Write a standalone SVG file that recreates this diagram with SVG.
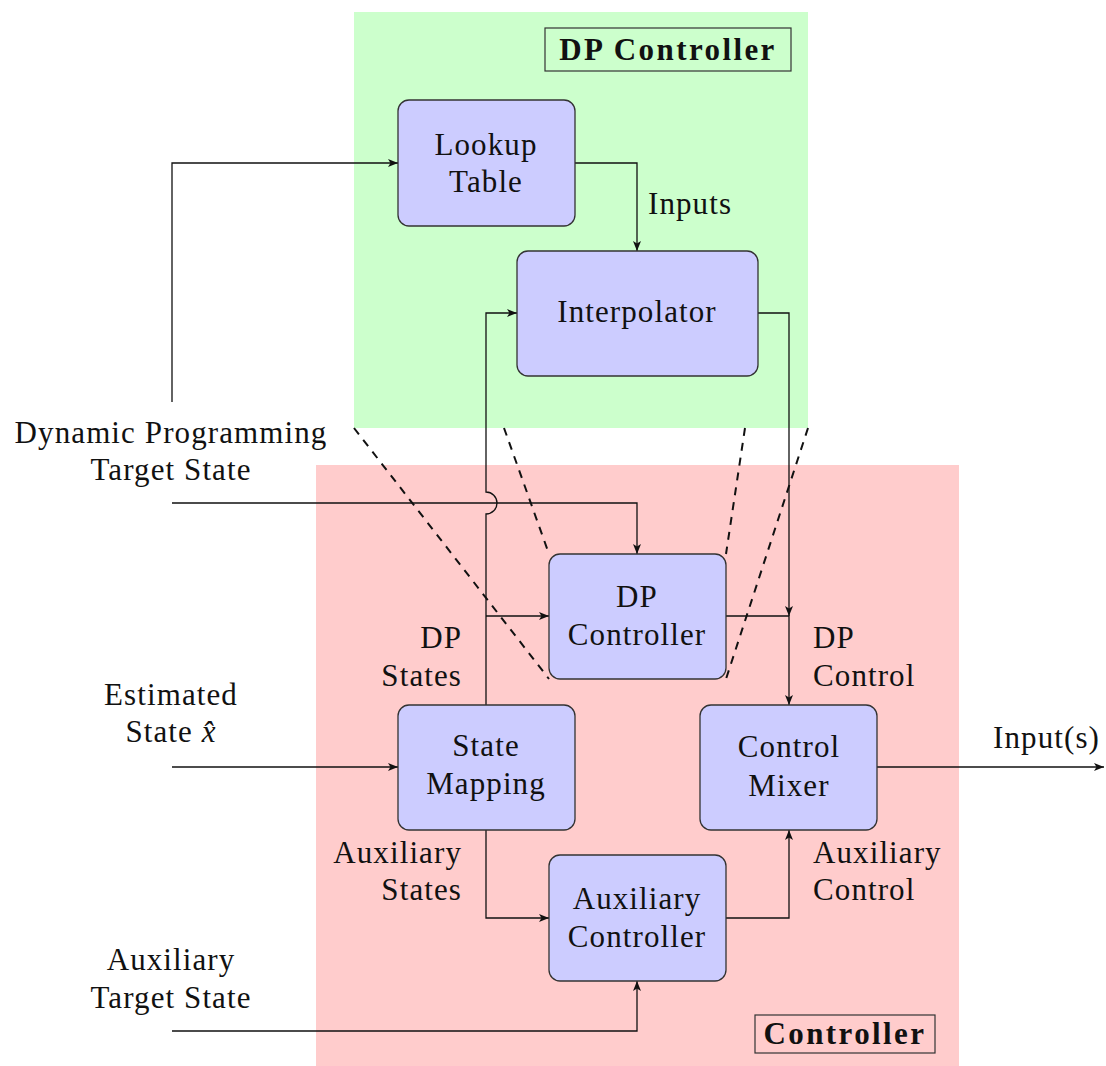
<svg xmlns="http://www.w3.org/2000/svg" width="1106" height="1066" viewBox="0 0 1106 1066">
  <style>
    text { font-family: "Liberation Serif", "DejaVu Serif", serif; font-size: 31px; letter-spacing: 1.1px; fill: #111; }
    .title { font-weight: bold; letter-spacing: 2.4px; }
    .box { fill: #ccccff; stroke: #333; stroke-width: 1.3; }
    .frame { fill: none; stroke: #333; stroke-width: 1.2; }
    .wire { fill: none; stroke: #111; stroke-width: 1.3; }
    .zoom { fill: none; stroke: #111; stroke-width: 2; stroke-dasharray: 8 7; }
    .c { text-anchor: middle; }
    .r { text-anchor: end; }
  </style>
  <defs>
    <marker id="arrow" viewBox="0 0 10 10" refX="10" refY="5" markerWidth="10" markerHeight="10" markerUnits="userSpaceOnUse" orient="auto">
      <path d="M0,1 L10,5 L0,9 L2.5,5 Z" fill="#111"/>
    </marker>
  </defs>

  <!-- regions -->
  <g id="dp-region">
    <rect x="354" y="12" width="454" height="416" fill="#ccffcc"/>
    <rect class="frame" x="545" y="28" width="246" height="43"/>
    <text class="c title" x="668" y="60">DP Controller</text>
  </g>
  <g id="controller-region">
    <rect x="316" y="465" width="643" height="601" fill="#ffcccc"/>
    <rect class="frame" x="755" y="1015" width="180" height="38"/>
    <text class="c title" x="845" y="1044">Controller</text>
  </g>

  <!-- magnification lines from the DP region down to the DP Controller block -->
  <g id="zoom-lines">
    <line class="zoom" x1="354" y1="428" x2="549" y2="679"/>
    <line class="zoom" x1="504" y1="428" x2="549" y2="554"/>
    <line class="zoom" x1="745" y1="428" x2="726" y2="554"/>
    <line class="zoom" x1="808" y1="428" x2="726" y2="679"/>
  </g>

  <!-- connectors -->
  <g id="connectors">
    <path class="wire" d="M172,402 V163 H398" marker-end="url(#arrow)"/>
    <path class="wire" d="M575,163 H637 V251" marker-end="url(#arrow)"/>
    <path class="wire" d="M486,705 V514 A11,11 0 0 0 486,492 V313 H517" marker-end="url(#arrow)"/>
    <path class="wire" d="M486,616 H549" marker-end="url(#arrow)"/>
    <path class="wire" d="M172,503 H637 V554" marker-end="url(#arrow)"/>
    <path class="wire" d="M758,313 H789 V616" marker-end="url(#arrow)"/>
    <path class="wire" d="M726,616 H789 V705" marker-end="url(#arrow)"/>
    <path class="wire" d="M172,767 H398" marker-end="url(#arrow)"/>
    <path class="wire" d="M486,830 V918 H549" marker-end="url(#arrow)"/>
    <path class="wire" d="M726,918 H789 V830" marker-end="url(#arrow)"/>
    <path class="wire" d="M172,1031 H637 V981" marker-end="url(#arrow)"/>
    <path class="wire" d="M877,767 H1104" marker-end="url(#arrow)"/>
  </g>

  <!-- nodes -->
  <g id="lookup-table">
    <rect class="box" x="398" y="100" width="177" height="126" rx="11"/>
    <text class="c" x="486" y="155">Lookup</text>
    <text class="c" x="486" y="192">Table</text>
  </g>
  <g id="interpolator">
    <rect class="box" x="517" y="251" width="241" height="125" rx="11"/>
    <text class="c" x="637" y="322">Interpolator</text>
  </g>
  <g id="dp-controller">
    <rect class="box" x="549" y="554" width="177" height="125" rx="11"/>
    <text class="c" x="637" y="607">DP</text>
    <text class="c" x="637" y="645">Controller</text>
  </g>
  <g id="state-mapping">
    <rect class="box" x="398" y="705" width="177" height="125" rx="11"/>
    <text class="c" x="486" y="756">State</text>
    <text class="c" x="486" y="794">Mapping</text>
  </g>
  <g id="control-mixer">
    <rect class="box" x="700" y="705" width="177" height="125" rx="11"/>
    <text class="c" x="789" y="757">Control</text>
    <text class="c" x="789" y="796">Mixer</text>
  </g>
  <g id="auxiliary-controller">
    <rect class="box" x="549" y="855" width="177" height="126" rx="11"/>
    <text class="c" x="637" y="909">Auxiliary</text>
    <text class="c" x="637" y="947">Controller</text>
  </g>

  <!-- signal labels -->
  <g id="labels">
    <text x="648" y="214">Inputs</text>
    <text class="c" x="171" y="443">Dynamic Programming</text>
    <text class="c" x="171" y="480">Target State</text>
    <text class="c" x="171" y="705">Estimated</text>
    <text class="c" x="171" y="742">State <tspan font-style="italic">x̂</tspan></text>
    <text class="c" x="171" y="970">Auxiliary</text>
    <text class="c" x="171" y="1008">Target State</text>
    <text class="r" x="462" y="648">DP</text>
    <text class="r" x="462" y="686">States</text>
    <text class="r" x="462" y="863">Auxiliary</text>
    <text class="r" x="462" y="900">States</text>
    <text x="813" y="648">DP</text>
    <text x="813" y="686">Control</text>
    <text x="813" y="863">Auxiliary</text>
    <text x="813" y="900">Control</text>
    <text class="r" x="1100" y="748">Input(s)</text>
  </g>
</svg>
